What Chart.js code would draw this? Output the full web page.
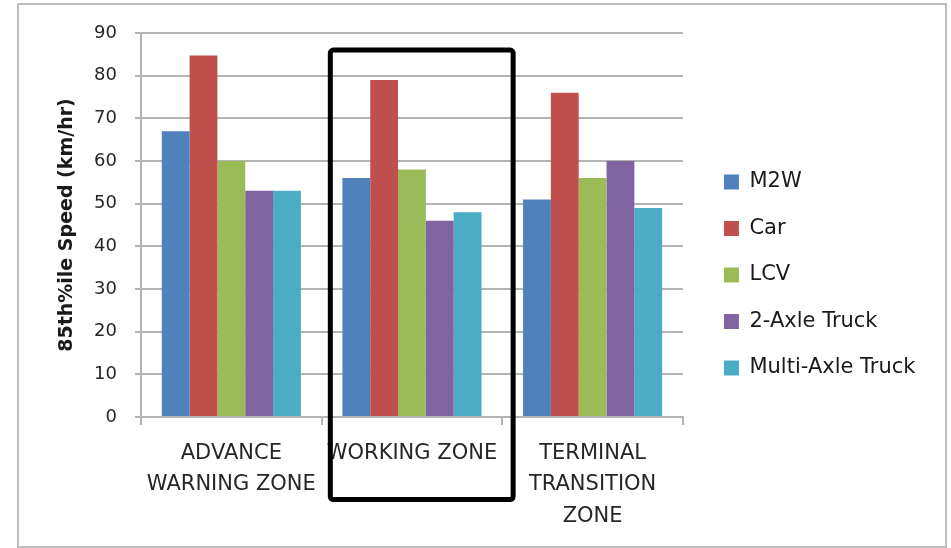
<!DOCTYPE html>
<html>
<head>
<meta charset="utf-8">
<script src="https://cdn.jsdelivr.net/npm/chart.js@4/dist/chart.umd.min.js"></script>
<style>
  html, body { margin: 0; padding: 0; background: #ffffff; }
  #wrap { position: relative; width: 951px; height: 548px; }
  canvas { display: block; }
</style>
</head>
<body>
<div id="wrap"><canvas id="chart" width="951" height="548"></canvas></div>
<script>
// Zones along the work-zone approach (multi-line labels)
const zones = [
  ['ADVANCE', 'WARNING ZONE'],
  'WORKING ZONE',
  ['TERMINAL', 'TRANSITION', 'ZONE']
];

// 85th percentile speeds (km/hr) per vehicle class
const m2w        = [67, 56, 51];
const car        = [84.7, 79, 76];
const lcv        = [60, 58, 56];
const twoAxle    = [53, 46, 60];
const multiAxle  = [53, 48, 49];

const seriesNames  = ['M2W', 'Car', 'LCV', '2-Axle Truck', 'Multi-Axle Truck'];
const seriesColors = ['#4F81BD', '#C0504D', '#9BBB59', '#8064A2', '#4BACC6'];

const yTicks = { min: 0, max: 90, step: 10 };
const axisTitle = '85th%ile Speed (km/hr)';

const FONT = 'DejaVu Sans';
const GRID = '#b4b4b4';

// Outer frame around the whole figure
const framePlugin = {
  id: 'frame',
  beforeDraw(chart) {
    const c = chart.ctx;
    c.save();
    c.fillStyle = '#ffffff';
    c.fillRect(0, 0, chart.width, chart.height);
    c.strokeStyle = '#bdbdbd';
    c.lineWidth = 2;
    c.strokeRect(18, 4, 928, 543);
    c.restore();
  }
};

// Thick box highlighting the working zone
const highlightPlugin = {
  id: 'highlight',
  afterDraw(chart) {
    const x = chart.scales.x, y = chart.scales.y;
    const step = (x.getPixelForValue(1) - x.getPixelForValue(0));
    const cx = x.getPixelForValue(1);
    const left = cx - step * 0.452;
    const right = cx + step * 0.56;
    const top = y.getPixelForValue(86);
    const bottom = chart.chartArea.bottom + 82.5;
    const c = chart.ctx;
    c.save();
    c.strokeStyle = '#000000';
    c.lineWidth = 5;
    c.lineJoin = 'round';
    c.beginPath();
    c.roundRect(left, top, right - left, bottom - top, 3);
    c.stroke();
    c.restore();
  }
};

const values = [m2w, car, lcv, twoAxle, multiAxle];

new Chart(document.getElementById('chart'), {
  type: 'bar',
  data: {
    labels: zones,
    datasets: seriesNames.map((name, i) => ({
      label: name,
      data: values[i],
      backgroundColor: seriesColors[i],
      borderWidth: 0,
      categoryPercentage: 0.77,
      barPercentage: 1.0
    }))
  },
  options: {
    responsive: false,
    devicePixelRatio: 1,
    animation: false,
    layout: { padding: { left: 0, top: 15, right: 25.5, bottom: 13 } },
    plugins: {
      tooltip: { enabled: false },
      legend: {
        position: 'right',
        maxWidth: 300,
        labels: {
          font: { family: FONT, size: 21 },
          color: '#1a1a1a',
          boxWidth: 15,
          boxHeight: 15,
          padding: 25.5
        }
      }
    },
    scales: {
      x: {
        grid: {
          offset: true,
          drawOnChartArea: false,
          drawTicks: true,
          tickLength: 8,
          color: GRID,
          lineWidth: 2
        },
        border: { color: GRID, width: 2 },
        ticks: {
          font: { family: FONT, size: 21, lineHeight: 1.5 },
          color: '#262626',
          padding: 12.5,
          maxRotation: 0,
          autoSkip: false
        },
        afterFit(s) { s.height = 118; }
      },
      y: {
        min: yTicks.min,
        max: yTicks.max,
        ticks: {
          stepSize: yTicks.step,
          font: { family: FONT, size: 18 },
          color: '#262626',
          padding: 18
        },
        grid: { color: GRID, lineWidth: 2, tickLength: 6 },
        border: { color: GRID, width: 2 },
        title: {
          display: true,
          text: axisTitle,
          font: { family: FONT, size: 19, weight: 'bold' },
          color: '#1a1a1a',
          padding: { top: 56, bottom: 0 }
        },
        afterFit(s) { s.width = 141; s.paddingTop = 33; }
      },
      gap: {
        position: 'right',
        display: true,
        grid: { display: false, drawTicks: false },
        border: { display: false },
        ticks: { display: false },
        afterFit(s) { s.width = 15.5; }
      }
    }
  },
  plugins: [framePlugin, highlightPlugin]
});
</script>
</body>
</html>
